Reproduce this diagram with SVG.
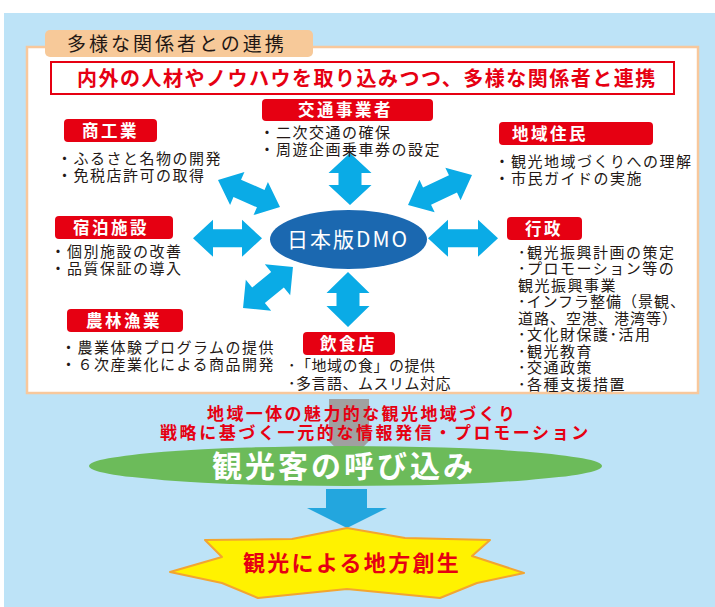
<svg xmlns="http://www.w3.org/2000/svg" width="715" height="607" viewBox="0 0 715 607">
<style>
  text { font-family: "Noto Sans CJK JP", "Noto Sans", sans-serif; }
  .bul { font-size: 15px; fill: #231815; letter-spacing: 1.5px; }
  .lab { fill: #e60012; }
  .labt { font-size: 16.5px; font-weight: bold; fill: #ffffff; letter-spacing: 2.5px; }
  .arr { fill: #0aabe6; }
</style>
<rect x="0" y="0" width="715" height="607" fill="#ffffff"/>
<rect x="4" y="13" width="711" height="594" fill="#bde3f7"/>

<g id="panel">
  <rect x="27" y="47" width="671" height="346" fill="#ffffff" stroke="#f8c89c" stroke-width="2.5"/>
</g>
<g id="title-tab">
  <rect x="45" y="30" width="268" height="27" rx="5" fill="#f7c999"/>
  <text x="67" y="51" font-size="19" fill="#231815" letter-spacing="3">多様な関係者との連携</text>
</g>
<g id="headline">
  <rect x="51" y="62" width="623" height="32" fill="#ffffff" stroke="#e60012" stroke-width="2"/>
  <text x="77" y="86" font-size="20" font-weight="bold" fill="#e60012" letter-spacing="1.5">内外の人材やノウハウを取り込みつつ、多様な関係者と連携</text>
</g>

<g id="connectors">
  <polygon class="arr" transform="translate(350,179) rotate(90)" points="-26,0 -6,-21.5 -6,-11.5 6,-11.5 6,-21.5 26,0 6,21.5 6,11.5 -6,11.5 -6,21.5"/>
  <polygon class="arr" transform="translate(348,299.5) rotate(90)" points="-27.5,0 -6.5,-21.5 -6.5,-11.5 6.5,-11.5 6.5,-21.5 27.5,0 6.5,21.5 6.5,11.5 -6.5,11.5 -6.5,21.5"/>
  <polygon class="arr" transform="translate(227.5,238.3)" points="-34.5,0 -14.5,-18.5 -14.5,-9 14.5,-9 14.5,-18.5 34.5,0 14.5,18.5 14.5,9 -14.5,9 -14.5,18.5"/>
  <polygon class="arr" transform="translate(463,238.3)" points="-35,0 -15,-18.5 -15,-9 15,-9 15,-18.5 35,0 15,18.5 15,9 -15,9 -15,18.5"/>
  <polygon class="arr" transform="translate(249,193.5) rotate(23.5)" points="-33.8,0 -12.8,-18 -12.8,-9.5 12.8,-9.5 12.8,-18 33.8,0 12.8,18 12.8,9.5 -12.8,9.5 -12.8,18"/>
  <polygon class="arr" transform="translate(440,190) rotate(-25)" points="-35.3,0 -14.3,-18 -14.3,-9.5 14.3,-9.5 14.3,-18 35.3,0 14.3,18 14.3,9.5 -14.3,9.5 -14.3,18"/>
  <polygon class="arr" transform="translate(268,287.5) rotate(-39.4)" points="-32.3,0 -12.3,-20 -12.3,-10 12.3,-10 12.3,-20 32.3,0 12.3,20 12.3,10 -12.3,10 -12.3,20"/>
</g>

<g id="dmo">
  <ellipse cx="348.5" cy="239.5" rx="78.5" ry="29.5" fill="#1b68b0"/>
  <text x="287" y="247" font-size="21" fill="#ffffff" letter-spacing="2">日本版DMO</text>
</g>

<g id="shokogyo">
  <rect class="lab" x="64" y="119" width="93" height="23" rx="4"/>
  <text class="labt" x="82" y="136.5">商工業</text>
  <text class="bul" x="57" y="164">・ふるさと名物の開発</text>
  <text class="bul" x="57" y="181">・免税店許可の取得</text>
</g>

<g id="kotsu">
  <rect class="lab" x="262" y="99" width="171" height="22" rx="4"/>
  <text class="labt" x="298" y="116">交通事業者</text>
  <text class="bul" x="259.5" y="138">・二次交通の確保</text>
  <text class="bul" x="259.5" y="155">・周遊企画乗車券の設定</text>
</g>

<g id="jumin">
  <rect class="lab" x="499" y="122" width="154" height="23" rx="4"/>
  <text class="labt" x="512" y="139.5">地域住民</text>
  <text class="bul" x="494.5" y="167">・観光地域づくりへの理解</text>
  <text class="bul" x="494.5" y="184">・市民ガイドの実施</text>
</g>

<g id="shukuhaku">
  <rect class="lab" x="55" y="216" width="118" height="23" rx="4"/>
  <text class="labt" x="73" y="233.5">宿泊施設</text>
  <text class="bul" x="50.5" y="257">・個別施設の改善</text>
  <text class="bul" x="50.5" y="274">・品質保証の導入</text>
</g>

<g id="noringyo">
  <rect class="lab" x="67" y="309" width="116" height="23" rx="4"/>
  <text class="labt" x="86" y="326.5">農林漁業</text>
  <text class="bul" x="61" y="353">・農業体験プログラムの提供</text>
  <text class="bul" x="61" y="370">・６次産業化による商品開発</text>
</g>

<g id="inshoku">
  <rect class="lab" x="303" y="332" width="92" height="23" rx="4"/>
  <text class="labt" x="320" y="349.5">飲食店</text>
  <text class="bul" x="288" y="371" style="letter-spacing:0.5px">･「地域の食」の提供</text>
  <text class="bul" x="288" y="389" style="letter-spacing:0.5px">･多言語、ムスリム対応</text>
</g>

<g id="gyosei">
  <rect class="lab" x="507" y="217" width="75" height="23" rx="4"/>
  <text class="labt" x="525" y="234.5">行政</text>
  <text class="bul" x="518" y="257.5">･観光振興計画の策定</text>
  <text class="bul" x="518" y="274">･プロモーション等の</text>
  <text class="bul" x="518" y="290.5">観光振興事業</text>
  <text class="bul" x="518" y="307" style="letter-spacing:1px">･インフラ整備（景観、</text>
  <text class="bul" x="518" y="323.5" style="letter-spacing:1px">道路、空港、港湾等）</text>
  <text class="bul" x="518" y="340">･文化財保護･活用</text>
  <text class="bul" x="518" y="356.5">･観光教育</text>
  <text class="bul" x="518" y="373">･交通政策</text>
  <text class="bul" x="518" y="389.5">･各種支援措置</text>
</g>

<g id="strategy">
  <polygon points="329,399 369,399 369,441 349,462 329,441" fill="#a0a0a0"/>
  <text x="207" y="420" font-size="17" font-weight="bold" fill="#e60012" letter-spacing="2.4">地域一体の魅力的な観光地域づくり</text>
  <text x="160" y="438.5" font-size="17" font-weight="bold" fill="#e60012" letter-spacing="2.6">戦略に基づく一元的な情報発信・プロモーション</text>
</g>

<g id="yobikomi">
  <ellipse cx="345.5" cy="466" rx="256.5" ry="20" fill="#6cbb5a"/>
  <text x="212" y="477" font-size="30" font-weight="bold" fill="#ffffff" letter-spacing="3">観光客の呼び込み</text>
</g>

<g id="down-arrow">
  <polygon points="326,489 367,489 367,508 387,508 347,528 307,508 326,508" fill="#23a6de"/>
</g>

<g id="sosei">
  <polygon points="347,528 405,538 490,540 472,556 524,573 477,583 440,598 347,589 258,598 222,583 170,572 222,557 205,540 292,539" fill="#fff200" stroke="#f3a530" stroke-width="2" stroke-linejoin="round"/>
  <text x="243" y="571" font-size="22" font-weight="bold" fill="#e60012" letter-spacing="2.3">観光による地方創生</text>
</g>
</svg>
